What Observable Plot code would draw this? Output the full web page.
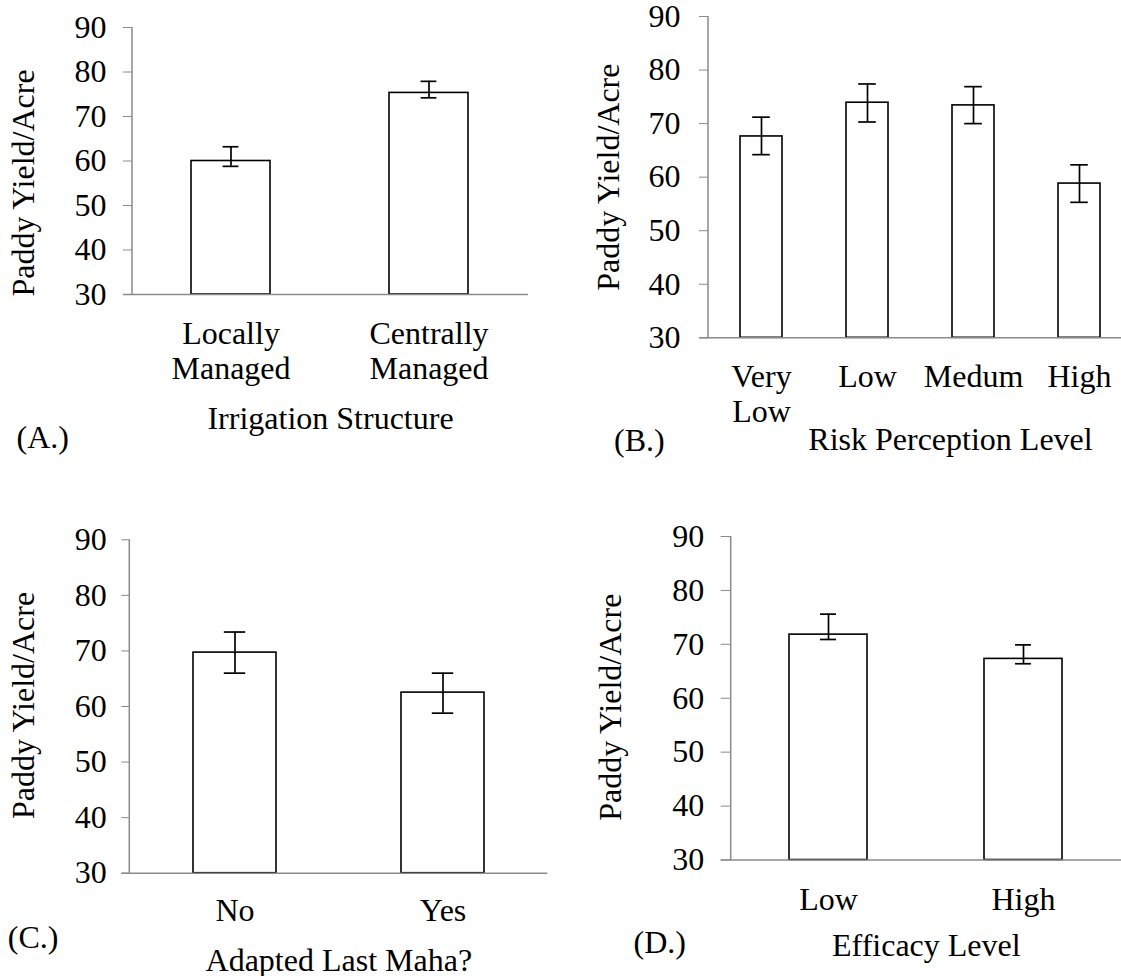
<!DOCTYPE html>
<html><head><meta charset="utf-8">
<script src="https://cdn.jsdelivr.net/npm/d3@7"></script>
<script src="https://cdn.jsdelivr.net/npm/@observablehq/plot@0.6"></script>
<style>
body{margin:0;background:#fff;}
#chart{position:relative;width:1121px;height:976px;overflow:hidden;background:#fff;}
#chart svg{position:absolute;}
#chart svg text{font-family:"Liberation Serif","Times New Roman",serif !important;}
</style></head><body><div id="chart"></div>
<script>
const FONT = "Liberation Serif";
const GRAY = "#8a8a8a";
const yTicks = [30, 40, 50, 60, 70, 80, 90];
const yLabel = "Paddy Yield/Acre";

// (A.) Irrigation Structure
const catsA = ["Locally Managed", "Centrally Managed"];
const labelsA = ["Locally\nManaged", "Centrally\nManaged"];
const meanA = [60.0, 75.3];
const loA = [58.8, 74.2];
const hiA = [63.2, 77.9];

// (B.) Risk Perception Level
const catsB = ["Very Low", "Low", "Medum", "High"];
const labelsB = ["Very\nLow", "Low", "Medum", "High"];
const meanB = [67.6, 73.9, 73.4, 58.8];
const loB = [64.2, 70.3, 70.0, 55.3];
const hiB = [71.2, 77.4, 76.9, 62.3];

// (C.) Adapted Last Maha?
const catsC = ["No", "Yes"];
const labelsC = ["No", "Yes"];
const meanC = [69.7, 62.5];
const loC = [66.0, 58.8];
const hiC = [73.4, 66.0];

// (D.) Efficacy Level
const catsD = ["Low", "High"];
const labelsD = ["Low", "High"];
const meanD = [71.8, 67.3];
const loD = [70.9, 66.4];
const hiD = [75.6, 69.9];

function panel(o) {
  const data = o.cats.map((c, i) => ({cat: c, label: o.labels[i], mean: o.mean[i], lo: o.lo[i], hi: o.hi[i]}));
  const innerW = o.width - o.ml - o.mr;
  const step = innerW / o.cats.length;
  const bw = step * 0.4;
  const capInset = bw / 2 - o.cap / 2;
  const axisLine = (index, scales, values, dims) => {
    return d3.create("svg:line")
      .attr("x1", dims.marginLeft).attr("x2", dims.marginLeft)
      .attr("y1", scales.y(30)).attr("y2", scales.y(90))
      .attr("stroke", GRAY).attr("stroke-width", 1.5).node();
  };
  const errStyle = {stroke: "black", strokeWidth: 1.7};
  const txt = {fontSize: 32, fontFamily: FONT, fill: "black"};
  const svg = Plot.plot({
    width: o.width, height: o.height,
    marginLeft: o.ml, marginRight: o.mr, marginTop: o.mt, marginBottom: o.mb,
    style: {fontFamily: FONT, fontSize: "32px", color: "black", background: "transparent", overflow: "visible"},
    x: {domain: o.cats, paddingInner: 0.6, paddingOuter: 0.3, axis: null},
    y: {domain: [30, 90]},
    marks: [
      Plot.barY(data, {x: "cat", y1: 30, y2: "mean", fill: "white", stroke: "black", strokeWidth: 1.6}),
      Plot.ruleX(data, {x: "cat", y1: "lo", y2: "hi", ...errStyle}),
      Plot.tickY(data, {x: "cat", y: "lo", insetLeft: capInset, insetRight: capInset, ...errStyle}),
      Plot.tickY(data, {x: "cat", y: "hi", insetLeft: capInset, insetRight: capInset, ...errStyle}),
      Plot.ruleY([30], {stroke: GRAY, strokeWidth: 1.5, insetLeft: -o.tickSize}),
      axisLine,
      Plot.axisY(yTicks, {tickSize: o.tickSize, tickPadding: o.tickPadding, stroke: GRAY, label: null, ...txt}),
      Plot.text(data, {x: "cat", text: "label", frameAnchor: "bottom", lineAnchor: "top", lineHeight: 1.1, dy: o.catDy, ...txt}),
      Plot.text([o.title], {text: d => d, frameAnchor: "bottom", lineAnchor: "bottom", dx: o.titleDx, dy: o.titleDy, ...txt}),
      Plot.text([o.tag], {text: d => d, frameAnchor: "bottom-left", textAnchor: "start", lineAnchor: "bottom", dx: o.tagDx, dy: o.tagDy, ...txt}),
      Plot.text([yLabel], {text: d => d, frameAnchor: "left", rotate: -90, textAnchor: "middle", lineAnchor: "bottom", dx: o.ylDx, dy: o.ylDy, ...txt})
    ]
  });
  svg.style.left = o.left + "px";
  svg.style.top = o.top + "px";
  return svg;
}

const chart = document.getElementById("chart");
chart.append(panel({
  cats: catsA, labels: labelsA, mean: meanA, lo: loA, hi: hiA,
  title: "Irrigation Structure", tag: "(A.)",
  left: 0, top: 0, width: 560, height: 480, ml: 132, mr: 32, mt: 27, mb: 186,
  tickSize: 9, tickPadding: 17, cap: 16,
  catDy: 24.3, titleDx: 0, titleDy: 134.3, tagDx: -116, tagDy: 153, ylDx: -99, ylDy: 22
}));
chart.append(panel({
  cats: catsB, labels: labelsB, mean: meanB, lo: loB, hi: hiB,
  title: "Risk Perception Level", tag: "(B.)",
  left: 560, top: 0, width: 572, height: 480, ml: 148, mr: 0, mt: 16, mb: 142.7,
  tickSize: 9, tickPadding: 19, cap: 18,
  catDy: 24.4, titleDx: 30, titleDy: 112, tagDx: -94.4, tagDy: 113, ylDx: -90, ylDy: 0
}));
chart.append(panel({
  cats: catsC, labels: labelsC, mean: meanC, lo: loC, hi: hiC,
  title: "Adapted Last Maha?", tag: "(C.)",
  left: 0, top: 490, width: 560, height: 486, ml: 129.3, mr: 12.7, mt: 49.3, mb: 103.3,
  tickSize: 8, tickPadding: 15, cap: 22,
  catDy: 23, titleDx: 0, titleDy: 97.3, tagDx: -122, tagDy: 74.3, ylDx: -96, ylDy: -1
}));
chart.append(panel({
  cats: catsD, labels: labelsD, mean: meanD, lo: loD, hi: hiD,
  title: "Efficacy Level", tag: "(D.)",
  left: 560, top: 490, width: 561, height: 486, ml: 170.7, mr: 0, mt: 46, mb: 116.5,
  tickSize: 10, tickPadding: 17, cap: 16,
  catDy: 24.8, titleDx: 0, titleDy: 95.5, tagDx: -97.7, tagDy: 92.5, ylDx: -110, ylDy: 9
}));
</script>
</body></html>
